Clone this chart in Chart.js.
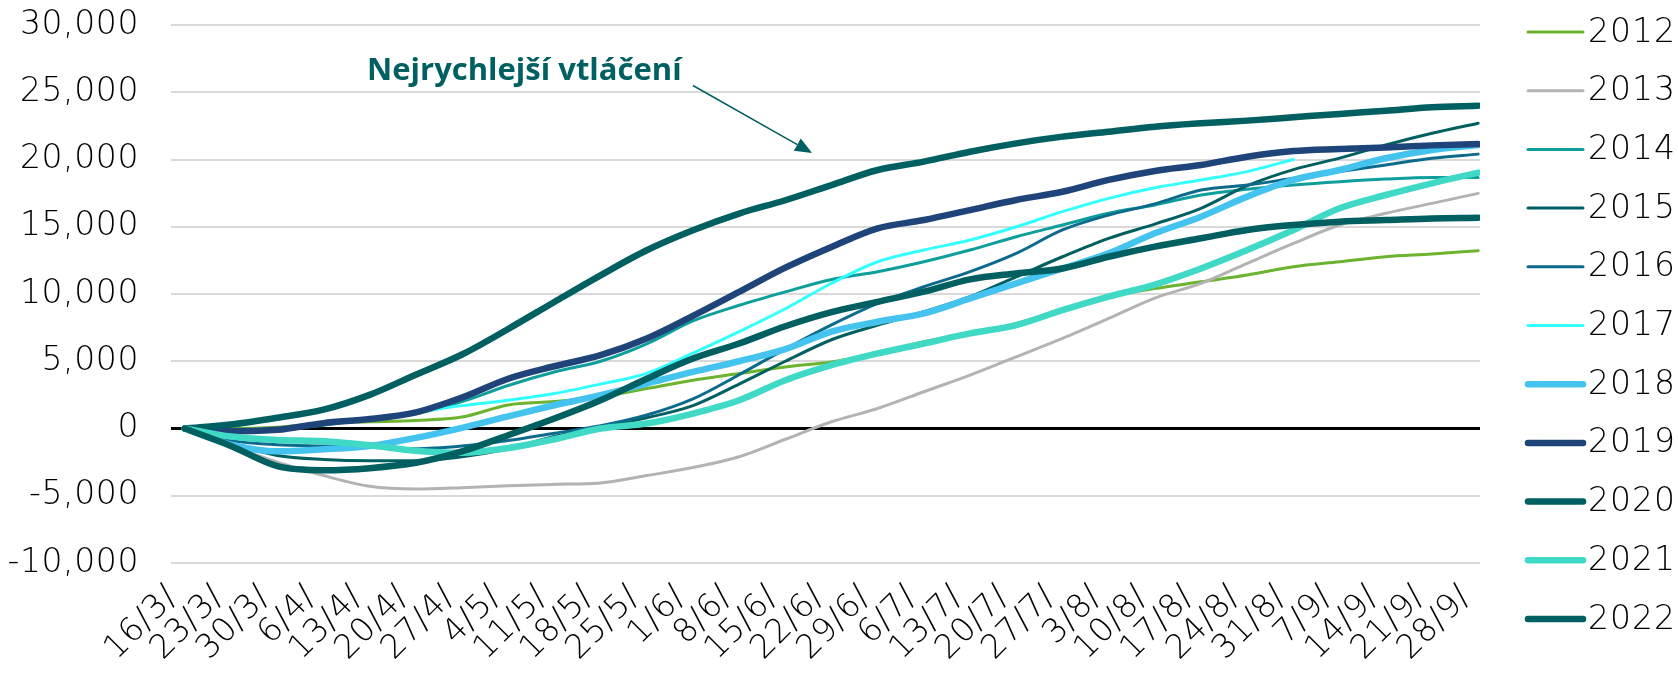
<!DOCTYPE html>
<html>
<head>
<meta charset="utf-8">
<script src="https://cdn.jsdelivr.net/npm/chart.js@4.4.1/dist/chart.umd.min.js"></script>
<style>
  html, body { margin: 0; padding: 0; background: #fff; }
  #wrap { width: 1678px; height: 676px; }
</style>
</head>
<body>
<div id="wrap"><canvas id="chart" width="1678" height="676"></canvas></div>
<script>
// weekly tick labels (data read at the same weekly points)
var dateLabels = ['16/3/', '23/3/', '30/3/', '6/4/', '13/4/', '20/4/', '27/4/', '4/5/', '11/5/', '18/5/',
  '25/5/', '1/6/', '8/6/', '15/6/', '22/6/', '29/6/', '6/7/', '13/7/', '20/7/', '27/7/',
  '3/8/', '10/8/', '17/8/', '24/8/', '31/8/', '7/9/', '14/9/', '21/9/', '28/9/'];

var years = ['2012', '2013', '2014', '2015', '2016', '2017', '2018', '2019', '2020', '2021', '2022'];

var y2012 = [0, 0, 100, 400, 500, 600, 850, 1750, 2000, 2350, 2970, 3590, 4090, 4580, 4950, 5580, 6450, 7070, 7810, 8800, 9800, 10400, 10910, 11410, 12030, 12400, 12770, 12970, 13220];
var y2013 = [0, -1300, -2500, -3500, -4300, -4500, -4400, -4250, -4150, -4050, -3500, -2900, -2100, -800, 500, 1490, 2730, 3970, 5330, 6700, 8180, 9700, 10790, 12280, 13760, 15130, 16000, 16740, 17480];
var y2014 = [0, -150, -100, 250, 700, 1100, 2000, 3200, 4200, 5000, 6300, 8000, 9160, 10160, 11080, 11660, 12400, 13270, 14260, 15130, 16000, 16620, 17360, 17780, 18100, 18350, 18550, 18670, 18670];
var y2015 = [0, -1100, -2000, -2300, -2400, -2400, -2100, -1500, -600, 100, 800, 1700, 3300, 5000, 6600, 7690, 8680, 9800, 11280, 12770, 14140, 15200, 16370, 18050, 19250, 20100, 21080, 21950, 22700];
var y2016 = [0, -900, -1200, -1300, -1400, -1500, -1300, -900, -350, 200, 1000, 2200, 4000, 5900, 7700, 9300, 10540, 11660, 13020, 14760, 15870, 16700, 17730, 18100, 18600, 19100, 19590, 20090, 20400];
var y2017 = [0, -100, 0, 400, 700, 1200, 1700, 2100, 2600, 3300, 4100, 5600, 7200, 8900, 10800, 12400, 13270, 14010, 15000, 16120, 17110, 17900, 18480, 19100, 20000, null, null, null, null];
var y2018 = [0, -1200, -1700, -1550, -1300, -700, 50, 900, 1730, 2480, 3340, 4210, 5000, 5900, 7200, 7940, 8560, 9670, 10790, 11900, 13020, 14510, 15750, 17240, 18480, 19220, 20090, 20710, 21080];
var y2019 = [0, -200, -100, 400, 700, 1200, 2300, 3700, 4630, 5450, 6690, 8370, 10160, 11960, 13500, 14880, 15500, 16240, 16990, 17600, 18480, 19150, 19590, 20210, 20630, 20780, 20900, 21050, 21150];
var y2020 = [0, 300, 800, 1400, 2500, 4000, 5500, 7400, 9410, 11390, 13250, 14740, 15980, 16970, 18100, 19220, 19840, 20580, 21200, 21700, 22070, 22440, 22690, 22890, 23140, 23390, 23630, 23880, 24000];
var y2021 = [0, -600, -850, -950, -1250, -1650, -1800, -1450, -800, 0, 370, 1110, 2100, 3590, 4710, 5580, 6320, 7070, 7690, 8800, 9800, 10700, 11900, 13270, 14760, 16370, 17360, 18230, 19020];
var y2022 = [0, -1300, -2800, -3100, -2950, -2550, -1700, -500, 740, 2100, 3700, 5200, 6320, 7600, 8650, 9420, 10170, 11090, 11530, 11900, 12770, 13520, 14140, 14760, 15130, 15380, 15500, 15620, 15670];

var allValues = [y2012, y2013, y2014, y2015, y2016, y2017, y2018, y2019, y2020, y2021, y2022];
var colors = ['#6CB42F', '#B3B3B3', '#0E9E9C', '#005F60', '#0C6B8D', '#33FFFF', '#44C3EE', '#1F4479', '#005F60', '#40D9C5', '#005F60'];
var widths = [3, 3, 3, 3, 3, 3, 6.5, 6.5, 6.5, 6.5, 6.5];

var note = { text: 'Nejrychlejší vtláčení', x: 7.35, y: 25900, fromX: 11.0, fromY: 25500, toX: 13.58, toY: 20480 };

var tickFont = { family: '"DejaVu Sans"', size: 33, weight: '300' };

var datasets = years.map(function(yr, i) {
  return {
    label: yr,
    data: allValues[i].map(function(v, k) { return { x: k, y: v }; }),
    borderColor: colors[i],
    borderWidth: widths[i],
    borderCapStyle: 'round',
    borderJoinStyle: 'round',
    pointRadius: 0,
    cubicInterpolationMode: 'monotone',
    spanGaps: false,
    order: years.length - i
  };
});

// a touch of letter spacing to get closer to the wide original type
var spacing = {
  id: 'spacing',
  beforeUpdate: function(chart) { chart.ctx.letterSpacing = '0.6px'; },
  beforeDraw: function(chart) { chart.ctx.letterSpacing = '0.6px'; }
};

var sideLegend = {
  id: 'sideLegend',
  afterDraw: function(chart) {
    var ctx = chart.ctx, x0 = chart.chartArea.right + 48;
    ctx.save();
    ctx.letterSpacing = '1px';
    ctx.font = '300 33px "DejaVu Sans"';
    ctx.textBaseline = 'middle';
    ctx.textAlign = 'left';
    ctx.fillStyle = '#000';
    chart.data.datasets.forEach(function(ds, i) {
      var y = 32 + i * 58.7;
      ctx.strokeStyle = ds.borderColor;
      ctx.lineWidth = ds.borderWidth;
      ctx.lineCap = 'round';
      ctx.beginPath();
      ctx.moveTo(x0, y);
      ctx.lineTo(x0 + 55, y);
      ctx.stroke();
      ctx.fillText(ds.label, x0 + 60, y + 1);
    });
    ctx.restore();
  }
};

var arrowNote = {
  id: 'arrowNote',
  afterDraw: function(chart) {
    var ctx = chart.ctx, xs = chart.scales.x, ys = chart.scales.y;
    var tx = xs.getPixelForValue(note.x), ty = ys.getPixelForValue(note.y);
    var ax = xs.getPixelForValue(note.fromX), ay = ys.getPixelForValue(note.fromY);
    var bx = xs.getPixelForValue(note.toX), by = ys.getPixelForValue(note.toY);
    ctx.save();
    ctx.letterSpacing = '0px';
    ctx.font = 'bold 31px "Open Sans"';
    ctx.fillStyle = '#005F60';
    ctx.textAlign = 'center';
    ctx.textBaseline = 'alphabetic';
    ctx.fillText(note.text, tx, ty);

    var ang = Math.atan2(by - ay, bx - ax), len = 17, half = 7;
    var hx = bx - Math.cos(ang) * len, hy = by - Math.sin(ang) * len;
    ctx.strokeStyle = '#005F60';
    ctx.lineWidth = 1.5;
    ctx.beginPath();
    ctx.moveTo(ax, ay);
    ctx.lineTo(hx, hy);
    ctx.stroke();
    ctx.beginPath();
    ctx.moveTo(bx, by);
    ctx.lineTo(hx + Math.sin(ang) * half, hy - Math.cos(ang) * half);
    ctx.lineTo(hx - Math.sin(ang) * half, hy + Math.cos(ang) * half);
    ctx.closePath();
    ctx.fill();
    ctx.restore();
  }
};

new Chart(document.getElementById('chart'), {
  type: 'line',
  data: { datasets: datasets },
  options: {
    responsive: false,
    animation: false,
    devicePixelRatio: 1,
    layout: { padding: { top: 25, right: 198, bottom: 0, left: 0 } },
    plugins: {
      legend: { display: false },
      tooltip: { enabled: false }
    },
    scales: {
      x: {
        type: 'linear',
        min: -0.3,
        max: 28.04,
        grid: { display: false },
        border: { display: false },
        afterBuildTicks: function(scale) {
          scale.ticks = dateLabels.map(function(_, i) { return { value: i }; });
        },
        afterFit: function(scale) {
          scale.height = 113;
          scale.paddingTop = 0; scale.paddingBottom = 0;
          scale.paddingLeft = 0; scale.paddingRight = 0;
        },
        ticks: {
          autoSkip: false,
          minRotation: 45,
          maxRotation: 45,
          padding: 7,
          labelOffset: -12,
          color: '#000',
          font: tickFont,
          callback: function(v) { return dateLabels[v]; }
        }
      },
      y: {
        min: -10000,
        max: 30000,
        afterFit: function(scale) {
          scale.width = 171;
          scale.paddingTop = 0; scale.paddingBottom = 0;
        },
        border: { display: false },
        grid: {
          drawTicks: false,
          color: function(c) { return c.tick && c.tick.value === 0 ? '#000' : '#D9D9D9'; },
          lineWidth: function(c) { return c.tick && c.tick.value === 0 ? 3 : 2; }
        },
        ticks: {
          stepSize: 5000,
          padding: 32,
          color: '#000',
          font: tickFont,
          callback: function(v) { return v.toLocaleString('en-US'); }
        }
      }
    }
  },
  plugins: [spacing, sideLegend, arrowNote]
});
</script>
</body>
</html>
